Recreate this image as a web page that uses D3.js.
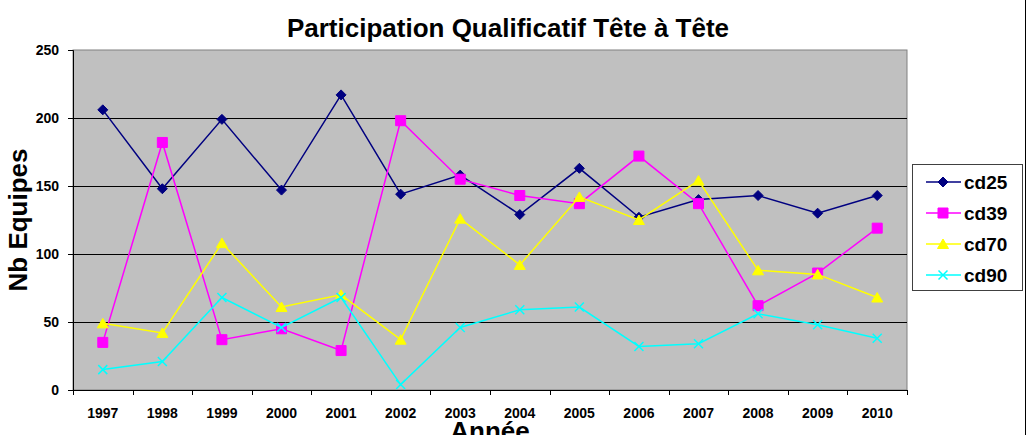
<!DOCTYPE html>
<html>
<head>
<meta charset="utf-8">
<script src="https://cdn.jsdelivr.net/npm/d3@7"></script>
<style>
  body { margin: 0; background: #fff; }
  text { font-family: "Liberation Sans", Arial, sans-serif; font-weight: bold; fill: #000; }
</style>
</head>
<body>
<div id="chart"></div>
<script>
// Data
const years = ['1997', '1998', '1999', '2000', '2001', '2002', '2003', '2004', '2005', '2006', '2007', '2008', '2009', '2010'];
const cd25 = [206, 148, 199, 147, 217, 144, 158, 129, 163, 127, 140, 143, 130, 143];
const cd39 = [35, 182, 37, 45, 29, 198, 155, 143, 137, 172, 137, 62, 86, 119];
const cd70 = [49, 42, 108, 61, 70, 37, 126, 92, 142, 125, 154, 88, 85, 68];
const cd90 = [15, 21, 68, 46, 68, 4, 46, 59, 61, 32, 34, 56, 48, 38];
const yTicks = [0, 50, 100, 150, 200, 250];

const series = [
    {name: 'cd25', values: cd25, color: '#000080', marker: 'diamond'},
    {name: 'cd39', values: cd39, color: '#FF00FF', marker: 'square'},
    {name: 'cd70', values: cd70, color: '#FFFF00', marker: 'triangle'},
    {name: 'cd90', values: cd90, color: '#00FFFF', marker: 'x'}
];

const W = 1032, H = 435;
const margin = {top: 50, right: 125, bottom: 45, left: 73};
const width = W - margin.left - margin.right;
const height = H - margin.top - margin.bottom;

// marker shapes drawn around (0,0)
const markerPath = {
    diamond: 'M0,-5L5,0L0,5L-5,0Z',
    square: 'M-5,-5H5V5H-5Z',
    triangle: 'M0,-5L5.5,4.5H-5.5Z',
    x: 'M-4.5,-4.5L4.5,4.5M-4.5,4.5L4.5,-4.5'
};

const svg = d3.select('#chart').append('svg')
    .attr('width', W)
    .attr('height', H);

// right border of the chart object
svg.append('line')
    .attr('x1', 1025.5).attr('x2', 1025.5)
    .attr('y1', 0).attr('y2', H)
    .attr('stroke', '#000').attr('stroke-width', 1);

const chart = svg.append('g')
    .attr('transform', `translate(${margin.left},${margin.top})`);

const xScale = d3.scaleBand().domain(years).range([0, width]).padding(0);
const yScale = d3.scaleLinear().domain([0, 250]).range([height, 0]);

// plot area
chart.append('rect')
    .attr('x', 0).attr('y', 0)
    .attr('width', width).attr('height', height)
    .attr('fill', '#C0C0C0')
    .attr('stroke', '#808080')
    .attr('stroke-width', 1);

// gridlines
chart.append('g')
    .selectAll('line')
    .data(yTicks.filter(d => d > 0 && d < 250))
    .join('line')
    .attr('x1', 0).attr('x2', width)
    .attr('y1', d => Math.round(yScale(d)) + 0.5)
    .attr('y2', d => Math.round(yScale(d)) + 0.5)
    .attr('stroke', '#000')
    .attr('stroke-width', 1);

// y axis
const yAxisG = chart.append('g')
    .call(d3.axisLeft(yScale).tickValues(yTicks).tickSize(5).tickPadding(9));
yAxisG.selectAll('text').style('font-size', '14px');
yAxisG.selectAll('line, path').attr('stroke', '#000');

// x axis: ticks at category boundaries
const xAxisG = chart.append('g')
    .attr('transform', `translate(0,${height})`);
xAxisG.append('line')
    .attr('x1', 0).attr('x2', width)
    .attr('y1', 0.5).attr('y2', 0.5)
    .attr('stroke', '#000');
xAxisG.selectAll('.tick-mark')
    .data(years.concat(['end']))
    .join('line')
    .attr('class', 'tick-mark')
    .attr('x1', (d, i) => Math.round(i * xScale.bandwidth()) + 0.5)
    .attr('x2', (d, i) => Math.round(i * xScale.bandwidth()) + 0.5)
    .attr('y1', 0).attr('y2', 5)
    .attr('stroke', '#000');
xAxisG.selectAll('.tick-label')
    .data(years)
    .join('text')
    .attr('class', 'tick-label')
    .attr('x', d => xScale(d) + xScale.bandwidth() / 2)
    .attr('y', 28)
    .attr('text-anchor', 'middle')
    .style('font-size', '14px')
    .text(d => d);

// lines and markers
const line = d3.line()
    .x((d, i) => xScale(years[i]) + xScale.bandwidth() / 2)
    .y(d => yScale(d));

series.forEach(s => {
    chart.append('path')
        .datum(s.values)
        .attr('fill', 'none')
        .attr('stroke', s.color)
        .attr('stroke-width', 1.5)
        .attr('d', line);

    chart.selectAll(`.pt-${s.name}`)
        .data(s.values)
        .join('path')
        .attr('class', `pt-${s.name}`)
        .attr('transform', (d, i) => `translate(${xScale(years[i]) + xScale.bandwidth() / 2},${yScale(d)})`)
        .attr('d', markerPath[s.marker])
        .attr('fill', s.marker === 'x' ? 'none' : s.color)
        .attr('stroke', s.color)
        .attr('stroke-width', s.marker === 'x' ? 1.5 : 1);
});

// titles
svg.append('text')
    .attr('x', 508)
    .attr('y', 37)
    .attr('text-anchor', 'middle')
    .style('font-size', '26px')
    .text('Participation Qualificatif Tête à Tête');

svg.append('text')
    .attr('transform', `translate(27,${margin.top + height / 2}) rotate(-90)`)
    .attr('text-anchor', 'middle')
    .style('font-size', '26px')
    .text('Nb Equipes');

svg.append('text')
    .attr('x', margin.left + width / 2)
    .attr('y', 440)
    .attr('text-anchor', 'middle')
    .style('font-size', '26px')
    .text('Année');

// legend
const legend = svg.append('g').attr('transform', 'translate(912,164)');
legend.append('rect')
    .attr('x', 0.5).attr('y', 0.5)
    .attr('width', 110).attr('height', 126)
    .attr('fill', '#fff')
    .attr('stroke', '#404040');

const item = legend.selectAll('.item')
    .data(series)
    .join('g')
    .attr('class', 'item')
    .attr('transform', (d, i) => `translate(0,${18 + i * 31})`);
item.append('line')
    .attr('x1', 14).attr('x2', 49)
    .attr('stroke', d => d.color)
    .attr('stroke-width', 1.5);
item.append('path')
    .attr('transform', 'translate(31,0)')
    .attr('d', d => markerPath[d.marker])
    .attr('fill', d => d.marker === 'x' ? 'none' : d.color)
    .attr('stroke', d => d.color)
    .attr('stroke-width', d => d.marker === 'x' ? 1.5 : 1);
item.append('text')
    .attr('x', 52)
    .attr('dy', '0.35em')
    .style('font-size', '19px')
    .text(d => d.name);
</script>
</body>
</html>
